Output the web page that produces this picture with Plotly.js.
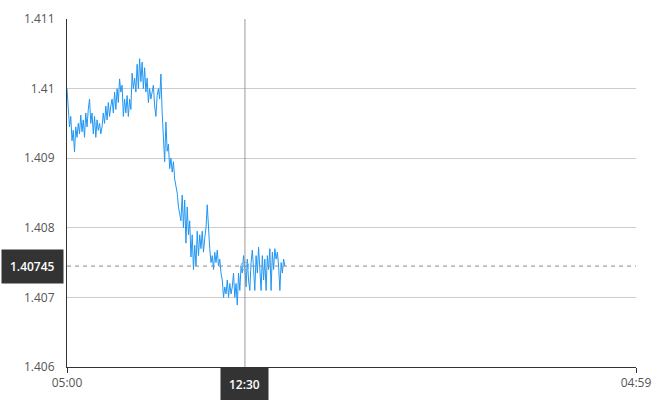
<!DOCTYPE html>
<html><head><meta charset="utf-8">
<script src="https://cdn.plot.ly/plotly-3.0.1.min.js"></script>
<style>html,body{margin:0;padding:0;background:#fff;}#chart{width:670px;height:400px;}</style>
</head><body><div id="chart"></div>
<script>
var startTime = '2024-01-01 05:00';
var endTime = '2024-01-02 04:59';
var stepSeconds = 190;
var xTickVals = ['2024-01-01 05:00', '2024-01-02 04:59'];
var xTickText = ['05:00', '04:59'];
var crossTime = '2024-01-01 12:30';
var crossLabel = '12:30';
var lastPrice = 1.40745;
var lastPriceLabel = '1.40745';
var prices = [
1.41000,1.40975,1.40945,1.40960,1.40925,1.40940,1.40909,
1.40945,1.40930,1.40950,1.40935,1.40962,1.40938,1.40955,1.40930,1.40965,1.40945,1.40970,1.40985,1.40950,
1.40965,1.40935,1.40960,1.40930,1.40955,1.40940,1.40950,1.40935,
1.40945,1.40965,1.40950,1.40975,1.40955,1.40980,1.40960,1.40975,
1.40985,1.40965,1.40995,1.40970,1.41000,1.40980,1.41014,1.40995,
1.41005,1.40960,1.40985,1.40965,1.40990,1.40960,1.40985,1.40970,
1.41022,1.41000,1.41015,1.40995,1.41035,1.41000,1.41043,1.41010,
1.41038,1.41000,1.41030,1.40995,1.41015,1.40980,1.41000,1.40985,
1.40995,1.41005,1.40975,1.40960,1.40990,1.41000,1.40985,1.41021,
1.40965,1.40920,1.40895,1.40952,1.40910,1.40920,1.40885,1.40900,
1.40880,1.40895,1.40870,1.40860,1.40850,1.40830,1.40820,1.40810,
1.40847,1.40800,1.40840,1.40778,1.40830,1.40790,1.40810,1.40758,
1.40790,1.40740,1.40775,1.40745,1.40795,1.40760,1.40790,1.40770,
1.40795,1.40765,1.40785,1.40800,1.40833,1.40790,1.40770,1.40750,
1.40760,1.40740,1.40765,1.40750,1.40768,1.40745,1.40755,1.40735,
1.40725,1.40700,1.40715,1.40705,1.40725,1.40700,1.40720,1.40705,
1.40715,1.40735,1.40700,1.40720,1.40689,1.40735,1.40710,1.40745,
1.40735,1.40760,1.40745,1.40715,1.40755,1.40725,1.40710,1.40750,
1.40768,1.40740,1.40710,1.40760,1.40735,1.40772,1.40745,1.40710,
1.40760,1.40725,1.40755,1.40710,1.40760,1.40740,1.40770,1.40710,
1.40765,1.40740,1.40770,1.40755,1.40765,1.40745,1.40710,1.40750,
1.40735,1.40755,1.40745
];

function fmt(d){
  function p(n){return (n<10?'0':'')+n;}
  return d.getFullYear()+'-'+p(d.getMonth()+1)+'-'+p(d.getDate())+' '+p(d.getHours())+':'+p(d.getMinutes())+':'+p(d.getSeconds());
}
var t0 = new Date(startTime.replace(' ','T'));
var times = prices.map(function(_,i){ return fmt(new Date(t0.getTime()+i*stepSeconds*1000)); });
var ct = new Date(crossTime.replace(' ','T')).getTime();
var hi = 0, best = Infinity;
times.forEach(function(t,i){ var d=Math.abs(new Date(t.replace(' ','T')).getTime()-ct); if(d<best){best=d;hi=i;} });

var traces = [
  {x: times, y: prices, type:'scatter', mode:'lines', line:{color:'#2196f3', width:1}, hoverinfo:'skip'},
  {x: [times[hi]], y: [prices[hi]], type:'scatter', mode:'markers', marker:{size:8, color:'rgba(255,255,255,0)', line:{color:'#64b5f6', width:1}}, hoverinfo:'skip'}
];
var font = {family:'"Open Sans", "Noto Sans", sans-serif', size:12, color:'#555'};
var labelFont = {family:'"Open Sans", sans-serif', size:12, color:'#fff', weight:600};
var layout = {
  width:670, height:400,
  margin:{l:67, r:34, t:19, b:33},
  paper_bgcolor:'#fff', plot_bgcolor:'#fff',
  showlegend:false,
  font: font,
  xaxis:{type:'date', range:[startTime, endTime], tickvals:xTickVals, ticktext:xTickText,
    showgrid:false, zeroline:false, showline:true, linecolor:'#333', linewidth:1,
    ticks:'outside', ticklen:5, tickcolor:'#333', tickfont:font, fixedrange:true},
  yaxis:{range:[1.406, 1.411], dtick:0.001, tick0:1.406, showgrid:true, gridcolor:'#cccccc', gridwidth:1,
    zeroline:false, showline:true, linecolor:'#333', linewidth:1, ticks:'', ticklabelstandoff:9, tickfont:font, fixedrange:true},
  shapes:[
    {type:'line', xref:'x', yref:'paper', x0:crossTime, x1:crossTime, y0:0, y1:1, line:{color:'#999', width:1}},
    {type:'line', xref:'paper', yref:'y', x0:0, x1:1, y0:lastPrice, y1:lastPrice, line:{color:'#888', width:1, dash:'4px,4px'}}
  ],
  annotations:[
    {xref:'x', yref:'paper', x:crossTime, y:0, yanchor:'top', xanchor:'center', text:crossLabel, showarrow:false,
     bgcolor:'#333', font:labelFont, borderpad:8},
    {xref:'paper', yref:'y', x:0, y:lastPrice, xanchor:'right', yanchor:'middle', text:lastPriceLabel, showarrow:false,
     bgcolor:'#333', font:labelFont, borderpad:8, xshift:-3}
  ]
};
Plotly.newPlot('chart', traces, layout, {displayModeBar:false, staticPlot:true});
</script></body></html>
